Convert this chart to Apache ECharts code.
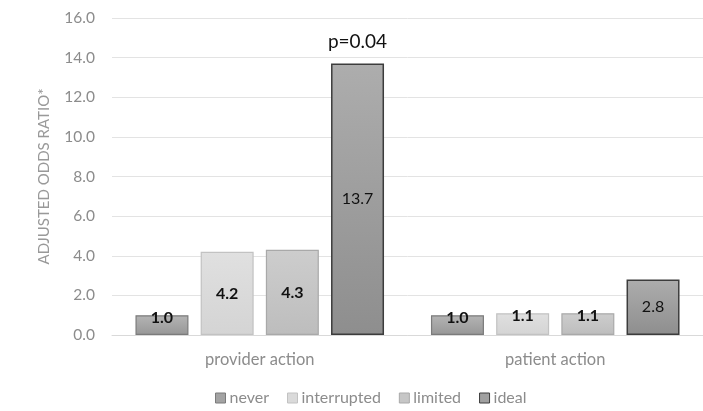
<!DOCTYPE html>
<html><head><meta charset="utf-8">
<script src="https://cdn.jsdelivr.net/npm/echarts@6/dist/echarts.min.js"></script>
<style>html,body{margin:0;padding:0;background:#fff}#c{width:703px;height:411px}</style>
</head><body><div id="c"></div>
<script>
const categories = ['provider action', 'patient action'];
const seriesNames = ['never', 'interrupted', 'limited', 'ideal'];
const never = [1.0, 1.0];
const interrupted = [4.2, 1.1];
const limited = [4.3, 1.1];
const ideal = [13.7, 2.8];
const pNote = 'p=0.04';
const yTicks = {min: 0, max: 16, interval: 2};

const FONT = 'Lato';
function grad(top, bottom) {
  return new echarts.graphic.LinearGradient(0, 0, 0, 1, [{offset: 0, color: top}, {offset: 1, color: bottom}]);
}
const styles = [
  {fill: grad('#b4b4b4', '#979797'), border: '#7b7b7b', legend: '#a3a3a3'},
  {fill: grad('#e0e0e0', '#d4d4d4'), border: '#c2c2c2', legend: '#dadada'},
  {fill: grad('#cdcdcd', '#bdbdbd'), border: '#a9a9a9', legend: '#c6c6c6'},
  {fill: grad('#adadad', '#8e8e8e'), border: '#3c3c3c', legend: '#a0a0a0'}
];
const values = [never, interrupted, limited, ideal];

function makeData(vals, si) {
  return vals.map(v => {
    const d = {value: v};
    if (si < 3 && v < 2) d.label = {position: 'top', distance: -11};
    else d.label = {position: 'inside'};
    return d;
  });
}

const series = seriesNames.map((name, si) => ({
  name: name,
  type: 'bar',
  barWidth: 53,
  barGap: '23%',
  data: makeData(values[si], si),
  itemStyle: {color: styles[si].fill, borderColor: styles[si].border, borderWidth: si === 3 ? 1.5 : 1.2},
  label: {
    show: true,
    formatter: p => p.value.toFixed(1),
    fontFamily: FONT, fontSize: 16,
    fontWeight: si === 3 ? 'normal' : 'bold',
    color: '#111'
  },
  emphasis: {disabled: true}
}));

series[3].markPoint = {
  symbol: 'rect', symbolSize: 1, silent: true,
  itemStyle: {color: 'rgba(0,0,0,0)'},
  label: {
    show: true, position: 'top', distance: 10,
    formatter: pNote, fontFamily: FONT, fontSize: 19, color: '#111',
    backgroundColor: '#fff', padding: [2, 6]
  },
  data: [{coord: [categories[0], ideal[0]]}]
};

const chart = echarts.init(document.getElementById('c'));
chart.setOption({
  animation: false,
  backgroundColor: '#fff',
  grid: {left: 112, right: -5, top: 18, bottom: 76},
  legend: {
    data: seriesNames.map((n, i) => ({name: n, itemStyle: {color: styles[i].legend, borderColor: styles[i].border, borderWidth: 1}})),
    left: 210, bottom: 0,
    itemWidth: 10, itemHeight: 10, itemGap: 18,
    icon: 'rect',
    textStyle: {fontFamily: FONT, fontSize: 16, color: '#8c8c8c', padding: [0, 0, 0, -1]}
  },
  xAxis: {
    type: 'category', data: categories,
    axisLine: {show: true, lineStyle: {color: '#d9d9d9'}},
    axisTick: {show: false},
    axisLabel: {fontFamily: FONT, fontSize: 16.5, color: '#8c8c8c', margin: 16}
  },
  yAxis: {
    type: 'value', min: yTicks.min, max: yTicks.max, interval: yTicks.interval,
    name: 'ADJUSTED ODDS RATIO*', nameLocation: 'middle', nameGap: 60,
    nameTextStyle: {fontFamily: FONT, fontSize: 15, color: '#999'},
    axisLine: {show: false}, axisTick: {show: false},
    axisLabel: {fontFamily: FONT, fontSize: 15.5, color: '#8c8c8c', margin: 17, formatter: v => v.toFixed(1)},
    splitLine: {lineStyle: {color: '#e3e3e3', width: 1}}
  },
  series: series
});
</script></body></html>
